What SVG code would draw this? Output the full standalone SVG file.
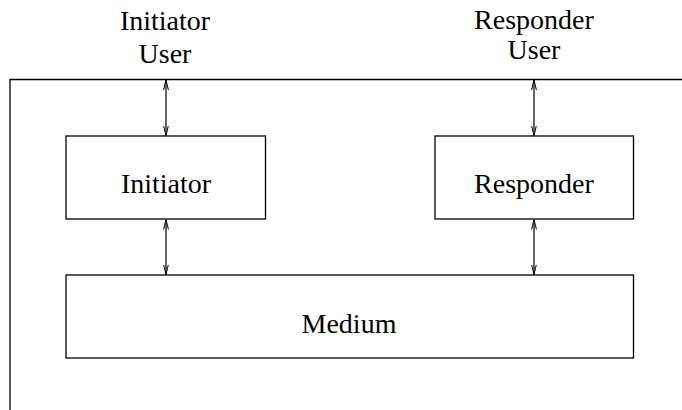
<svg xmlns="http://www.w3.org/2000/svg" width="682" height="410" viewBox="0 0 682 410">
  <defs>
    <marker id="head" viewBox="0 0 10 10" refX="10" refY="5" markerWidth="10" markerHeight="10" markerUnits="userSpaceOnUse" orient="auto-start-reverse">
      <path d="M0,2.6 L10,5 L0,7.4" fill="none" stroke="#000" stroke-width="1"/>
    </marker>
  </defs>
  <style>
    .box { fill: #fff; stroke: #000; stroke-width: 1.3; }
    .frame { fill: none; stroke: #000; stroke-width: 1.3; }
    .label { font-family: "Liberation Serif", "Times New Roman", serif; font-size: 28px; fill: #000; text-anchor: middle; }
    .link { stroke: #000; stroke-width: 1.2; fill: none; marker-start: url(#head); marker-end: url(#head); }
  </style>
  <rect width="682" height="410" fill="#fff"/>

  <!-- system boundary -->
  <path class="frame" d="M10,410 L10,79.5 L682,79.5"/>

  <!-- external users -->
  <g id="initiator-user">
    <text class="label" x="165" y="30">Initiator</text>
    <text class="label" x="165" y="63">User</text>
  </g>
  <g id="responder-user">
    <text class="label" x="534" y="29">Responder</text>
    <text class="label" x="534" y="59">User</text>
  </g>

  <g id="initiator">
    <rect class="box" x="66" y="136" width="199.5" height="83"/>
    <text class="label" x="166" y="193">Initiator</text>
  </g>
  <g id="responder">
    <rect class="box" x="435" y="136" width="198.5" height="83"/>
    <text class="label" x="534" y="193">Responder</text>
  </g>
  <g id="medium">
    <rect class="box" x="66" y="275" width="567.5" height="83"/>
    <text class="label" x="349" y="333">Medium</text>
  </g>

  <g id="connectors">
    <line class="link" x1="166" y1="80" x2="166" y2="135.5"/>
    <line class="link" x1="166" y1="219.5" x2="166" y2="274.5"/>
    <line class="link" x1="534" y1="80" x2="534" y2="135.5"/>
    <line class="link" x1="534" y1="219.5" x2="534" y2="274.5"/>
  </g>
</svg>
